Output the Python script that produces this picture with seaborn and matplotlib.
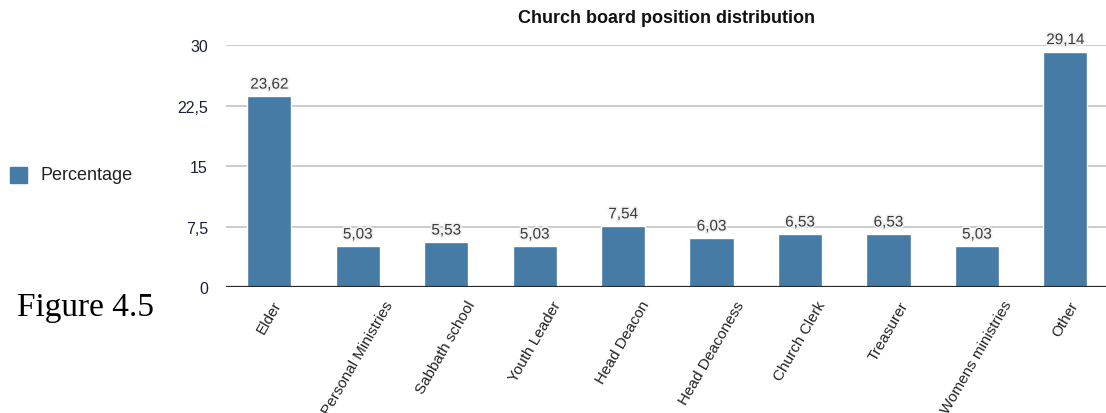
import matplotlib
matplotlib.use("Agg")
import matplotlib.pyplot as plt
import matplotlib.patheffects as pe
import seaborn as sns
import pandas as pd

positions = ["Elder", "Personal Ministries", "Sabbath school", "Youth Leader",
             "Head Deacon", "Head Deaconess", "Church Clerk", "Treasurer",
             "Womens ministries", "Other"]
percentages = [23.62, 5.03, 5.53, 5.03, 7.54, 6.03, 6.53, 6.53, 5.03, 29.14]
y_ticks = [0, 7.5, 15, 22.5, 30]
y_tick_labels = ["0", "7,5", "15", "22,5", "30"]

df = pd.DataFrame({"Position": positions, "Percentage": percentages})

sns.set_style("white")
plt.rcParams["font.family"] = ["Liberation Sans", "DejaVu Sans"]

bar_color = "#467ba6"

fig = plt.figure(figsize=(11.06, 4.14), dpi=100)
ax = fig.add_axes([0.2043, 0.3043, 0.7957, 0.5846])

sns.barplot(data=df, x="Position", y="Percentage", color=bar_color,
            width=0.5, saturation=1, ax=ax, zorder=3)

ax.set_xlim(-0.49, 9.46)
ax.set_ylim(0, 30)
ax.set_yticks(y_ticks)
ax.set_yticklabels(y_tick_labels, fontsize=11.5, color="#1a1f3a")
ax.tick_params(axis="y", length=0, pad=13)
ax.tick_params(axis="x", length=0, pad=8)
ax.set_xticks(range(len(positions)))
ax.set_xticklabels(positions, rotation=60, ha="center", va="top",
                   fontsize=11, color="#222222")
ax.set_xlabel("")
ax.set_ylabel("")

for v in y_ticks[1:]:
    ax.axhline(v, color="#bdbdbd", lw=1.1, zorder=1)
ax.axhline(0, color="#2a2a2a", lw=1.6, zorder=4)

for s in ax.spines.values():
    s.set_visible(False)

# value labels above each bar
for i, v in enumerate(percentages):
    ax.annotate(f"{v:.2f}".replace(".", ","), (i, v), xytext=(0, 3.5),
                textcoords="offset points", ha="center", va="bottom",
                fontsize=11, color="#3a3a3a", clip_on=False,
                path_effects=[pe.withStroke(linewidth=2.5, foreground="#f2f2f2")])

fig.text(0.6022, 0.9565, "Church board position distribution", ha="center",
         va="center", fontsize=13, fontweight="bold", color="#111111")

# legend
fig.patches.append(plt.Rectangle((10 / 1106, 1 - 184 / 414), 17 / 1106, 16 / 414,
                                 transform=fig.transFigure, color=bar_color,
                                 figure=fig))
fig.text(40 / 1106, 1 - 176 / 414, "Percentage", ha="left", va="center",
         fontsize=13, color="#222222")

fig.text(17 / 1106, 1 - 316 / 414, "Figure 4.5", ha="left", va="baseline",
         fontsize=24, family=["Liberation Serif", "DejaVu Serif"], color="black")

fig.savefig("out.png", dpi=100)
